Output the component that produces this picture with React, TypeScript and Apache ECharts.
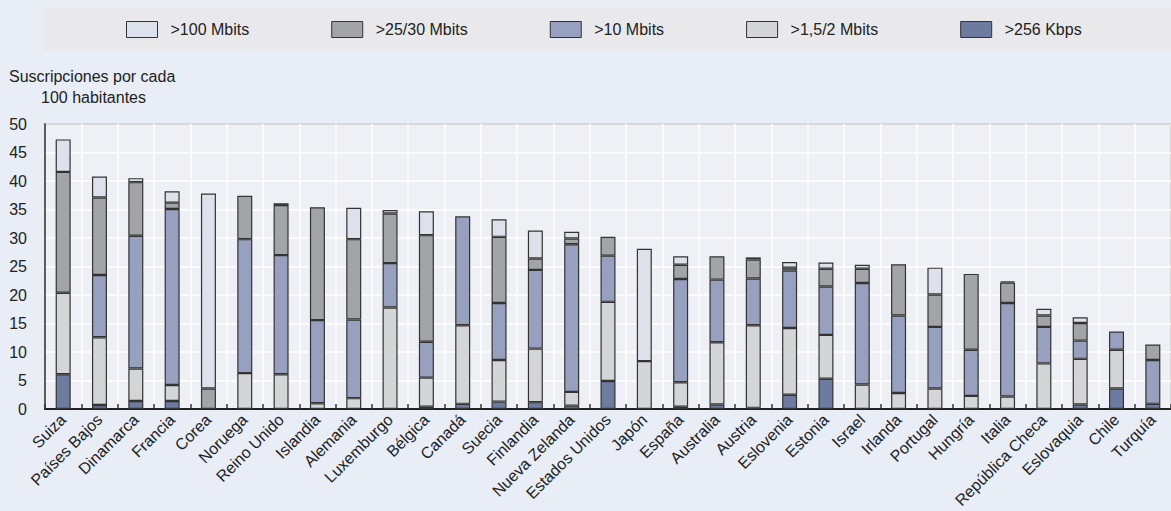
import React, { useEffect, useRef } from "react";
import * as echarts from "echarts";

const countries = [
  "Suiza", "Países Bajos", "Dinamarca", "Francia", "Corea", "Noruega", "Reino Unido",
  "Islandia", "Alemania", "Luxemburgo", "Bélgica", "Canadá", "Suecia", "Finlandia",
  "Nueva Zelanda", "Estados Unidos", "Japón", "España", "Australia", "Austria",
  "Eslovenia", "Estonia", "Israel", "Irlanda", "Portugal", "Hungría", "Italia",
  "República Checa", "Eslovaquia", "Chile", "Turquía",
];

const kbps256 = [6.1, 0.7, 1.4, 1.4, 0, 0, 0, 0, 0, 0, 0.4, 0.9, 1.3, 1.2, 0.6, 4.9, 0, 0.4, 0.8, 0.2, 2.5, 5.3, 0, 0, 0, 0, 0, 0, 0.8, 3.6, 0.9];
const mbits1_5 = [14.3, 11.9, 5.7, 2.8, 0, 6.3, 6.1, 1.0, 1.9, 17.8, 5.1, 13.8, 7.3, 9.4, 2.4, 13.9, 8.4, 4.3, 10.9, 14.5, 11.7, 7.7, 4.3, 2.8, 3.6, 2.3, 2.2, 8.0, 8.0, 6.8, 0];
const mbits10 = [0, 10.9, 23.3, 30.9, 0, 23.5, 20.9, 14.6, 13.8, 7.8, 6.3, 19.1, 10.0, 13.8, 25.9, 8.1, 0, 18.1, 11.0, 8.2, 10.1, 8.5, 17.8, 13.6, 10.8, 8.1, 16.4, 6.4, 3.2, 3.2, 7.7];
const mbits25 = [21.2, 13.6, 9.4, 1.1, 3.6, 7.6, 8.8, 19.8, 14.1, 8.7, 18.7, 0, 11.6, 2.0, 1.0, 3.3, 0, 2.5, 4.1, 3.3, 0.5, 3.1, 2.5, 9.0, 5.7, 13.3, 3.6, 2.0, 3.1, 0, 2.7];
const mbits100 = [5.7, 3.7, 0.7, 2.0, 34.2, 0, 0.3, 0, 5.5, 0.6, 4.2, 0, 3.1, 4.9, 1.2, 0, 19.7, 1.5, 0, 0.4, 1.0, 1.1, 0.7, 0, 4.7, 0, 0.2, 1.2, 1.0, 0, 0];

const seriesDefs = [
  { name: ">256 Kbps", data: kbps256, color: "#6c7b9f" },
  { name: ">1,5/2 Mbits", data: mbits1_5, color: "#d4d5d7" },
  { name: ">10 Mbits", data: mbits10, color: "#97a1bf" },
  { name: ">25/30 Mbits", data: mbits25, color: "#a3a4a8" },
  { name: ">100 Mbits", data: mbits100, color: "#dde1ec" },
];
const legendOrder = [">100 Mbits", ">25/30 Mbits", ">10 Mbits", ">1,5/2 Mbits", ">256 Kbps"];
const yTicks = [0, 5, 10, 15, 20, 25, 30, 35, 40, 45, 50];

const FONT = "'Liberation Sans', Arial, Helvetica, sans-serif";

export default function App() {
  const ref = useRef<HTMLDivElement>(null);
  useEffect(() => {
    if (!ref.current) return;
    const chart = echarts.init(ref.current, null, { renderer: "svg" });
    chart.setOption({
      animation: false,
      backgroundColor: "#e8edf6",
      textStyle: { fontFamily: FONT },
      graphic: [
        { type: "rect", left: 44, top: 8, shape: { width: 1127, height: 42 }, style: { fill: "#e9e9ec" }, z: -1 },
        { type: "text", left: 9, top: 68, style: { text: "Suscripciones por cada", fontSize: 16, fontFamily: FONT, fill: "#222" } },
        { type: "text", left: 41, top: 89, style: { text: "100 habitantes", fontSize: 16, fontFamily: FONT, fill: "#222" } },
      ],
      legend: {
        left: 126,
        top: 21,
        padding: 0,
        itemWidth: 31,
        itemHeight: 16,
        itemGap: 82,
        icon: "rect",
        selectedMode: false,
        data: legendOrder.map((n) => ({ name: n })),
        itemStyle: { borderColor: "#333", borderWidth: 1 },
        textStyle: { fontSize: 16, color: "#222", fontFamily: FONT, padding: [0, 0, 0, 8] },
      },
      grid: {
        left: 45,
        top: 124,
        width: 1141,
        height: 285,
        show: true,
        backgroundColor: "#eff0f5",
        borderColor: "#333",
        borderWidth: 1.5,
      },
      xAxis: {
        type: "category",
        data: countries,
        axisLine: { lineStyle: { color: "#222", width: 2 } },
        axisTick: { show: true, inside: true, length: 5, lineStyle: { color: "#333", width: 1.5 } },
        splitLine: { show: true, lineStyle: { color: "#ffffff", width: 1.5 } },
        axisLabel: { rotate: 45, fontSize: 16, color: "#222", margin: 8, fontFamily: FONT, interval: 0 },
      },
      yAxis: {
        type: "value",
        min: 0,
        max: 50,
        interval: 5,
        axisLine: { show: true, lineStyle: { color: "#333", width: 1.5 } },
        axisTick: { show: false },
        splitLine: { show: true, lineStyle: { color: "#ffffff", width: 1.5 } },
        axisLabel: {
          fontSize: 16,
          color: "#222",
          margin: 18,
          fontFamily: FONT,
          formatter: (v: number) => (yTicks.includes(v) ? String(v) : ""),
        },
      },
      series: seriesDefs.map((s) => ({
        name: s.name,
        type: "bar",
        stack: "total",
        barWidth: 15,
        data: s.data.map((v) => (v === 0 ? null : v)),
        itemStyle: { color: s.color, borderColor: "#333", borderWidth: 1.2 },
      })),
    });
    return () => chart.dispose();
  }, []);
  return (
    <div
      ref={ref}
      style={{ position: "fixed", left: 0, top: 0, width: 1171, height: 511, overflow: "hidden" }}
    />
  );
}
